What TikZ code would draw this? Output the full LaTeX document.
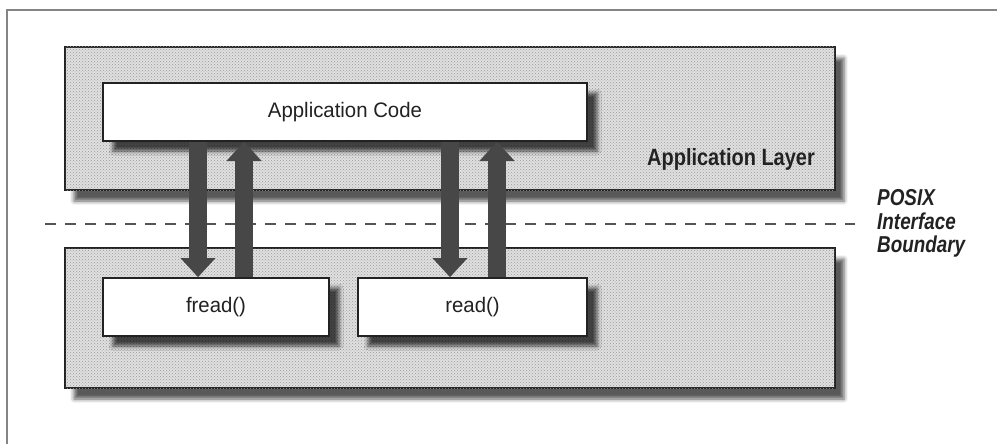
\documentclass[tikz,border=0pt]{standalone}
\usepackage{fontspec}
\setmainfont{Liberation Sans}
\newfontfamily\boxfont[FakeStretch=0.97]{Liberation Sans}
\newfontfamily\condfont[FakeStretch=0.85]{Liberation Sans}
\newfontfamily\posixfont[FakeStretch=0.82]{Liberation Sans}
\usetikzlibrary{arrows.meta,shadows.blur,patterns}

\definecolor{ink}{HTML}{222222}
\definecolor{textink}{HTML}{222222}
\definecolor{layerfill}{HTML}{E0E0E0}
\definecolor{dotgray}{HTML}{9A9A9A}
\definecolor{arrowgray}{HTML}{474747}
\definecolor{framegray}{HTML}{858585}
\definecolor{dashgray}{HTML}{555555}

\begin{document}
\begin{tikzpicture}[x=1pt,y=-1pt,
  layer/.style={draw=ink, line width=2pt, fill=layerfill, inner sep=0pt,
    postaction={pattern=crosshatch dots, pattern color=dotgray},
    blur shadow={shadow xshift=9pt, shadow yshift=-11pt, shadow opacity=65, shadow blur radius=4pt}},
  callbox/.style={draw=ink, line width=2pt, fill=white, inner sep=0pt,
    text=textink, font=\boxfont\fontsize{21}{24}\selectfont,
    blur shadow={shadow xshift=10pt, shadow yshift=-10pt, shadow opacity=70, shadow blur radius=4pt}},
  flow/.style={draw=arrowgray, line width=18pt,
    -{Triangle[length=19pt, width=35pt, line width=0.1pt]}},
  boundary/.style={draw=dashgray, line width=2pt, dash pattern=on 11pt off 9pt},
  sidelabel/.style={anchor=base west, inner sep=0pt, text=textink,
    font=\posixfont\bfseries\itshape\fontsize{23}{24}\selectfont}
]
\useasboundingbox (0,0) rectangle (997,444);

% page frame
\draw[framegray, line width=2pt] (7,444) -- (7,10) -- (997,10);

% the two layers
\node[layer, minimum width=770pt, minimum height=143pt] (applayer) at (450,118.5) {};
\node[layer, minimum width=770pt, minimum height=140pt] (syslayer) at (450,318) {};

\node[anchor=base, inner sep=0pt, text=textink,
      font=\condfont\bfseries\fontsize{23.5}{26}\selectfont] (layerlabel) at (731,165) {Application Layer};

% boxes
\node[callbox, minimum width=484pt, minimum height=58pt] (appcode) at (345,112) {Application Code};
\node[callbox, minimum width=226pt, minimum height=58pt] (fread) at (216,307) {fread()};
\node[callbox, minimum width=229pt, minimum height=58pt] (read) at (472.5,307) {read()};

% POSIX interface boundary
\coordinate (bstart) at (45,224);
\coordinate (bend) at (855,224);
\draw[boundary] (bstart) -- (bend);
\node[sidelabel] (posixA) at (877,205) {POSIX};
\node[sidelabel] (posixB) at (877,229) {Interface};
\node[sidelabel] (posixC) at (877,252) {Boundary};

% calls crossing the boundary
\coordinate (xa) at (198,0);
\coordinate (xb) at (244,0);
\coordinate (xc) at (450,0);
\coordinate (xd) at (497,0);
\draw[flow] (appcode.south -| xa) -- (fread.north -| xa);
\draw[flow] (fread.north -| xb) -- (appcode.south -| xb);
\draw[flow] (appcode.south -| xc) -- (read.north -| xc);
\draw[flow] (read.north -| xd) -- (appcode.south -| xd);
\end{tikzpicture}
\end{document}
